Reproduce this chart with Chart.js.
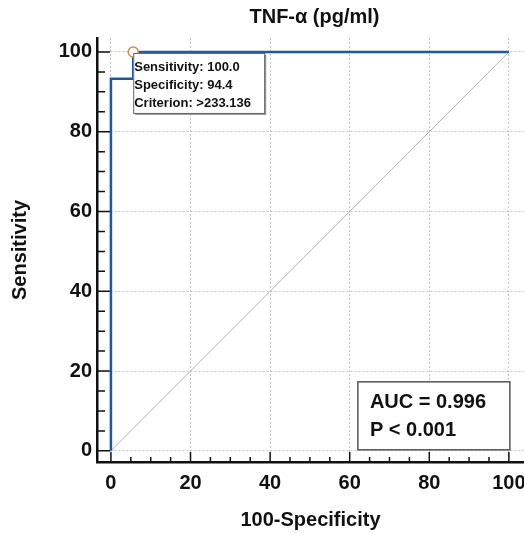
<!DOCTYPE html>
<html>
<head>
<meta charset="utf-8">
<script src="https://cdn.jsdelivr.net/npm/chart.js@4.4.1/dist/chart.umd.min.js"></script>
<style>
  html,body{margin:0;padding:0;background:#fff;}
  #wrap{width:524px;height:533px;position:relative;}
</style>
</head>
<body>
<div id="wrap"><canvas id="roc"></canvas></div>
<script>
// ROC curve points (100-specificity, sensitivity)
const rocX=[0,0,5.6,5.6,100];
const rocY=[0,93.3,93.3,100,100];
const refX=[0,100];
const refY=[0,100];
const cutX=[5.6];
const cutY=[100];
const tickVals=[0,20,40,60,80,100];
const minorStep=5;
const chartTitle='TNF-α (pg/ml)';
const cutLines=['Sensitivity: 100.0','Specificity: 94.4','Criterion: >233.136'];
const aucLines=['AUC = 0.996','P < 0.001'];

const FONT='"Liberation Sans", Arial, sans-serif';
const toPts=(xs,ys)=>xs.map((x,i)=>({x,y:ys[i]}));

const extras={
  id:'extras',
  beforeDatasetsDraw(chart){
    const {ctx,chartArea:a,scales:{x,y}}=chart;
    ctx.save();
    ctx.strokeStyle='#111';
    ctx.lineWidth=1.5;
    for(let v=0;v<=100;v+=minorStep){
      const major=v%20===0;
      const px=x.getPixelForValue(v);
      const py=y.getPixelForValue(v);
      ctx.beginPath();
      ctx.moveTo(px,a.bottom);ctx.lineTo(px,a.bottom-(major?10:5));
      ctx.moveTo(a.left,py);ctx.lineTo(a.left+(major?13:8),py);
      ctx.stroke();
    }
    ctx.restore();
  },
  afterDraw(chart){
    const {ctx,chartArea:a,scales:{x,y}}=chart;
    ctx.save();
    // title
    ctx.fillStyle='#111';
    ctx.font='bold 20px '+FONT;
    ctx.textAlign='center';ctx.textBaseline='middle';
    ctx.fillText(chartTitle,(a.left+a.right)/2+4,17);

    // criterion box
    const bx=x.getPixelForValue(cutX[0]);
    const by=y.getPixelForValue(cutY[0])+1;
    const bw=131,bh=60;
    ctx.fillStyle='#9a9a9a';
    ctx.fillRect(bx+2,by+2,bw,bh);
    ctx.fillStyle='#fff';
    ctx.fillRect(bx,by,bw,bh);
    ctx.strokeStyle='#666';ctx.lineWidth=1;
    ctx.strokeRect(bx+0.5,by+0.5,bw,bh);
    ctx.fillStyle='#111';
    ctx.font='bold 13px '+FONT;
    ctx.textAlign='left';
    cutLines.forEach((t,i)=>ctx.fillText(t,bx+1,by+14+i*18));

    // AUC box
    const rx=x.getPixelForValue(100)+1;
    const ry=y.getPixelForValue(0)-1;
    const aw=152,ah=68;
    ctx.fillStyle='#fff';
    ctx.fillRect(rx-aw,ry-ah,aw,ah);
    ctx.strokeStyle='#555';ctx.lineWidth=1.5;
    ctx.strokeRect(rx-aw,ry-ah,aw,ah);
    ctx.fillStyle='#111';
    ctx.font='bold 20px '+FONT;
    aucLines.forEach((t,i)=>ctx.fillText(t,rx-aw+12,ry-ah+21+i*28));
    ctx.restore();
  }
};

const gridColor=(c)=>(c.tick && c.tick.value>100)?'rgba(0,0,0,0)':'#c4c4c4';

const axisCommon={
  type:'linear',
  grid:{color:gridColor,lineWidth:1,drawTicks:false},
  border:{display:true,color:'#111',width:2.5,dash:[2,2]},
  ticks:{
    stepSize:20,includeBounds:false,autoSkip:false,
    color:'#111',font:{family:FONT,size:20,weight:'bold'},
    callback:(v)=>tickVals.includes(v)?String(v):''
  }
};

new Chart(document.getElementById('roc'),{
  type:'scatter',
  data:{
    datasets:[
      {data:toPts(refX,refY),showLine:true,borderColor:'#b4b4b4',borderWidth:1,pointRadius:0,order:3},
      {data:toPts(rocX,rocY),showLine:true,borderColor:'#1c58a3',borderWidth:2.5,pointRadius:0,order:2},
      {data:toPts(cutX,cutY),showLine:false,pointRadius:5,pointBackgroundColor:'#fff',pointBorderColor:'#d98a4a',pointBorderWidth:1.5,order:1}
    ]
  },
  options:{
    responsive:true,maintainAspectRatio:false,animation:false,
    layout:{autoPadding:false,padding:{top:38,right:0,left:0,bottom:0}},
    plugins:{legend:{display:false},tooltip:{enabled:false},title:{display:false}},
    scales:{
      x:{...axisCommon,min:-3.5,max:103.8,
        ticks:{...axisCommon.ticks,padding:9,maxRotation:0},
        afterBuildTicks(s){s.ticks.push({value:s.max});},
        title:{display:true,text:'100-Specificity',color:'#111',font:{family:FONT,size:20,weight:'bold'},padding:{top:0,bottom:1}},
        afterFit(s){s.height=71;s.paddingLeft=0;s.paddingRight=0;}
      },
      y:{...axisCommon,min:-2.8,max:103.5,
        ticks:{...axisCommon.ticks,padding:5},
        title:{display:true,text:'Sensitivity',color:'#111',font:{family:FONT,size:20,weight:'bold'},padding:{top:8,bottom:0}},
        afterFit(s){s.width=97;s.paddingTop=0;s.paddingBottom=0;}
      }
    }
  },
  plugins:[extras]
});
</script>
</body>
</html>
